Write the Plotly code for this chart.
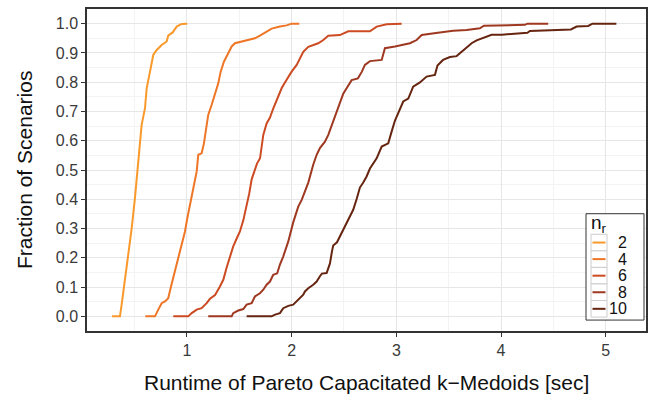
import plotly.graph_objects as go

# Empirical CDFs of runtime (seconds) for each number of regions n_r
nr_levels = [2, 4, 6, 8, 10]

runtime_nr2 = [0.284, 0.360, 0.376, 0.408, 0.439, 0.472, 0.503, 0.525, 0.551, 0.567,
               0.599, 0.615, 0.647, 0.678, 0.711, 0.758, 0.806, 0.821, 0.863, 0.902,
               0.949, 1.003]
frac_nr2 = [0.000, 0.000, 0.040, 0.131, 0.199, 0.301, 0.404, 0.495, 0.609, 0.654,
            0.711, 0.779, 0.836, 0.893, 0.910, 0.927, 0.939, 0.959, 0.970, 0.990,
            0.999, 1.000]

runtime_nr4 = [0.602, 0.694, 0.726, 0.758, 0.790, 0.821, 0.844, 0.869, 0.895, 0.917,
               0.949, 0.981, 1.003, 1.029, 1.060, 1.093, 1.108, 1.140, 1.162, 1.181,
               1.203, 1.236, 1.268, 1.299, 1.322, 1.353, 1.394, 1.427, 1.458, 1.506,
               1.570, 1.649, 1.697, 1.745, 1.809, 1.888, 1.952, 2.000, 2.073]
frac_nr4 = [0.000, 0.000, 0.023, 0.045, 0.051, 0.062, 0.097, 0.131, 0.165, 0.199,
            0.245, 0.290, 0.335, 0.381, 0.438, 0.495, 0.552, 0.557, 0.591, 0.643,
            0.688, 0.723, 0.757, 0.796, 0.836, 0.870, 0.899, 0.922, 0.933, 0.937,
            0.944, 0.950, 0.959, 0.970, 0.983, 0.990, 0.994, 1.000, 1.000]

runtime_nr6 = [0.869, 1.012, 1.045, 1.093, 1.140, 1.188, 1.220, 1.268, 1.315, 1.347,
               1.379, 1.411, 1.442, 1.475, 1.506, 1.538, 1.570, 1.595, 1.618, 1.640,
               1.669, 1.698, 1.729, 1.761, 1.793, 1.824, 1.857, 1.905, 1.952, 2.000,
               2.048, 2.079, 2.111, 2.159, 2.254, 2.302, 2.350, 2.461, 2.541, 2.748,
               2.812, 2.907, 3.051]
frac_nr6 = [0.000, 0.000, 0.011, 0.023, 0.028, 0.045, 0.060, 0.073, 0.102, 0.125,
            0.167, 0.205, 0.239, 0.266, 0.290, 0.328, 0.375, 0.420, 0.468, 0.495,
            0.522, 0.540, 0.620, 0.659, 0.679, 0.710, 0.741, 0.780, 0.808, 0.836,
            0.859, 0.880, 0.904, 0.921, 0.933, 0.944, 0.959, 0.961, 0.974, 0.974,
            0.990, 0.998, 1.000]

runtime_nr8 = [1.203, 1.427, 1.442, 1.490, 1.538, 1.570, 1.618, 1.649, 1.697, 1.729,
               1.761, 1.793, 1.824, 1.862, 1.888, 1.920, 1.968, 2.015, 2.063, 2.096,
               2.127, 2.159, 2.206, 2.239, 2.270, 2.318, 2.350, 2.397, 2.445, 2.493,
               2.525, 2.573, 2.633, 2.671, 2.700, 2.748, 2.860, 2.891, 2.987, 3.066,
               3.130, 3.194, 3.242, 3.397, 3.543, 3.671, 3.798, 3.837, 4.228, 4.252,
               4.451]
frac_nr8 = [0.000, 0.000, 0.011, 0.020, 0.025, 0.040, 0.045, 0.068, 0.079, 0.091,
            0.108, 0.119, 0.142, 0.147, 0.177, 0.205, 0.256, 0.321, 0.375, 0.398,
            0.427, 0.457, 0.518, 0.552, 0.575, 0.597, 0.620, 0.666, 0.711, 0.761,
            0.779, 0.807, 0.813, 0.836, 0.859, 0.872, 0.876, 0.916, 0.922, 0.927,
            0.933, 0.944, 0.961, 0.969, 0.976, 0.978, 0.984, 0.993, 0.996, 1.000,
            1.000]

runtime_nr10 = [1.570, 1.809, 1.841, 1.888, 1.920, 1.968, 2.015, 2.048, 2.079, 2.111,
                2.127, 2.159, 2.206, 2.239, 2.270, 2.289, 2.334, 2.366, 2.385, 2.397,
                2.433, 2.461, 2.493, 2.525, 2.557, 2.588, 2.621, 2.652, 2.684, 2.716,
                2.748, 2.812, 2.860, 2.923, 2.955, 2.987, 3.018, 3.066, 3.114, 3.161,
                3.225, 3.289, 3.369, 3.393, 3.446, 3.512, 3.576, 3.624, 3.665, 3.719,
                3.767, 3.846, 3.910, 4.008, 4.252, 4.276, 4.668, 4.722, 4.833, 4.873,
                5.102]
frac_nr10 = [0.000, 0.000, 0.006, 0.011, 0.028, 0.036, 0.040, 0.051, 0.062, 0.074,
             0.085, 0.096, 0.108, 0.119, 0.137, 0.146, 0.148, 0.181, 0.222, 0.242,
             0.253, 0.273, 0.296, 0.321, 0.345, 0.364, 0.401, 0.440, 0.457, 0.478,
             0.505, 0.540, 0.580, 0.591, 0.631, 0.669, 0.694, 0.734, 0.744, 0.785,
             0.799, 0.819, 0.825, 0.857, 0.876, 0.886, 0.889, 0.904, 0.918, 0.933,
             0.943, 0.953, 0.962, 0.962, 0.969, 0.975, 0.980, 0.990, 0.992, 1.000,
             1.000]

runtimes = [runtime_nr2, runtime_nr4, runtime_nr6, runtime_nr8, runtime_nr10]
fractions = [frac_nr2, frac_nr4, frac_nr6, frac_nr8, frac_nr10]
colors = ["#F9992B", "#EE7626", "#CD4B22", "#9E3820", "#662510"]

x_ticks = [1, 2, 3, 4, 5]
y_ticks = [0.0, 0.1, 0.2, 0.3, 0.4, 0.5, 0.6, 0.7, 0.8, 0.9, 1.0]

FONT = "Liberation Sans, Arial, Helvetica, sans-serif"
W, H = 659, 401
ML, MR, MT, MB = 87, 13, 7, 70

fig = go.Figure()
for nr, xs, ys, col in zip(nr_levels, runtimes, fractions, colors):
    fig.add_trace(go.Scatter(x=xs, y=ys, mode="lines", name=str(nr),
                             line=dict(color=col, width=2), showlegend=False))

axis_common = dict(
    showline=True, mirror=True, linecolor="#333333", linewidth=1.5,
    ticks="outside", ticklen=4, tickwidth=1, tickcolor="#333333",
    tickfont=dict(family=FONT, size=16, color="#3A3A3A"),
    showgrid=True, gridcolor="#E6E6E6", gridwidth=1,
    zeroline=False,
)

fig.update_xaxes(range=[0.045, 5.385], tickvals=x_ticks,
                 minor=dict(dtick=0.5, tick0=0.5, showgrid=True,
                            gridcolor="#F3F3F3", gridwidth=1, ticks=""),
                 **axis_common)
fig.update_yaxes(range=[-0.05, 1.05], tickvals=y_ticks, tickformat=".1f",
                 minor=dict(dtick=0.05, tick0=0.05, showgrid=True,
                            gridcolor="#F3F3F3", gridwidth=1, ticks=""),
                 **axis_common)

pw, ph = W - ML - MR, H - MT - MB


def px(x):
    return (x - ML) / pw


def py(y):
    return (H - MB - y) / ph


shapes = []
annotations = [
    dict(text="Runtime of Pareto Capacitated k\u2212Medoids [sec]", x=0.5, y=py(383),
         xref="paper", yref="paper", xanchor="center", yanchor="middle",
         showarrow=False, font=dict(family=FONT, size=21, color="#111111")),
    dict(text="Fraction of Scenarios", x=px(24), y=0.5, textangle=-90,
         xref="paper", yref="paper", xanchor="center", yanchor="middle",
         showarrow=False, font=dict(family=FONT, size=21, color="#111111")),
]

# Legend drawn inside the panel, bottom-right
leg_x0, leg_x1, leg_y0, leg_y1 = 586, 644, 213, 320
shapes.append(dict(type="rect", xref="paper", yref="paper",
                   x0=px(leg_x0), x1=px(leg_x1), y0=py(leg_y1), y1=py(leg_y0),
                   line=dict(color="#333333", width=1), fillcolor="white", layer="above"))
annotations.append(dict(text="n<sub>r</sub>", x=px(589), y=py(223),
                        xref="paper", yref="paper", xanchor="left", yanchor="middle",
                        showarrow=False, font=dict(family=FONT, size=19, color="#111111")))
key_h = 16.67
first_y = 242
for i, (nr, col) in enumerate(zip(nr_levels, colors)):
    cy = first_y + i * key_h
    shapes.append(dict(type="rect", xref="paper", yref="paper",
                       x0=px(591), x1=px(607), y0=py(cy + key_h / 2), y1=py(cy - key_h / 2),
                       line=dict(color="#CCCCCC", width=1), fillcolor="white", layer="above"))
    shapes.append(dict(type="line", xref="paper", yref="paper",
                       x0=px(592.5), x1=px(605.5), y0=py(cy), y1=py(cy),
                       line=dict(color=col, width=2), layer="above"))
    annotations.append(dict(text=str(nr), x=px(629), y=py(cy),
                            xref="paper", yref="paper", xanchor="right", yanchor="middle",
                            showarrow=False, font=dict(family=FONT, size=16, color="#111111")))

fig.update_layout(
    width=W, height=H,
    margin=dict(l=ML, r=MR, t=MT, b=MB),
    paper_bgcolor="white", plot_bgcolor="white",
    shapes=shapes, annotations=annotations,
    showlegend=False,
)

fig.write_html("out.html")
